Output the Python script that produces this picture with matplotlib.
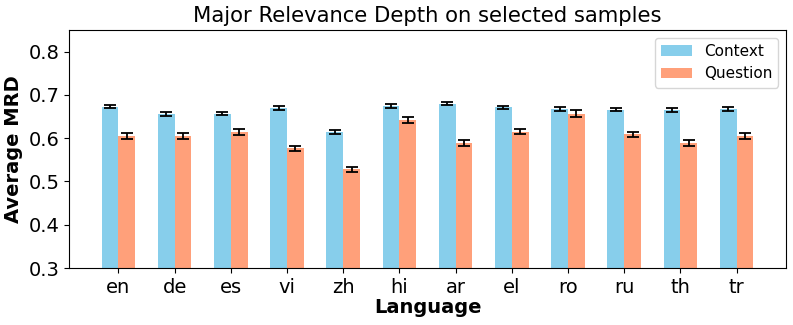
import matplotlib
matplotlib.use("Agg")
import matplotlib.pyplot as plt
import numpy as np

languages = ["en", "de", "es", "vi", "zh", "hi", "ar", "el", "ro", "ru", "th", "tr"]
context_mrd = [0.673, 0.656, 0.657, 0.670, 0.614, 0.674, 0.680, 0.671, 0.667, 0.666, 0.665, 0.667]
context_err = [0.004, 0.004, 0.004, 0.004, 0.004, 0.004, 0.004, 0.004, 0.004, 0.004, 0.004, 0.004]
question_mrd = [0.605, 0.606, 0.615, 0.577, 0.528, 0.641, 0.589, 0.615, 0.656, 0.609, 0.588, 0.605]
question_err = [0.007, 0.007, 0.007, 0.006, 0.006, 0.007, 0.006, 0.006, 0.008, 0.006, 0.007, 0.007]

fig = plt.figure(figsize=(7.93, 3.25), dpi=100)
ax = fig.add_axes([69/793, 1 - 268/325, (786 - 69)/793, (268 - 30)/325])

x = np.arange(len(languages))
w = 0.3
ekw = dict(ecolor="black", elinewidth=1.3, capthick=1.3)
ax.bar(x - w/2, context_mrd, w, yerr=context_err, capsize=4, color="#87CEEB",
       label="Context", error_kw=ekw)
ax.bar(x + w/2, question_mrd, w, yerr=question_err, capsize=4, color="#FFA07A",
       label="Question", error_kw=ekw)

ax.set_ylim(0.3, 0.85)
ax.set_xticks(x)
ax.set_xticklabels(languages)
ax.tick_params(axis="both", labelsize=14)
ax.set_xlabel("Language", fontsize=14, fontweight="bold", labelpad=1)
ax.set_ylabel("Average MRD", fontsize=14, fontweight="bold")
ax.set_title("Major Relevance Depth on selected samples", fontsize=15.2)
ax.legend(fontsize=11, loc="upper right")

fig.savefig("out.png", dpi=100)
